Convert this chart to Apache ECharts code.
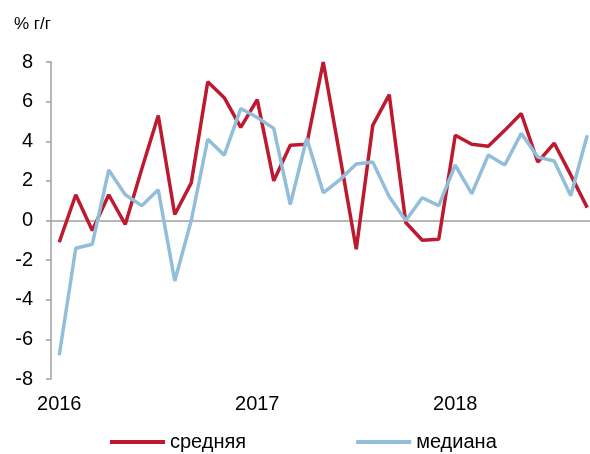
<!DOCTYPE html>
<html>
<head>
<meta charset="utf-8">
<script src="https://cdn.jsdelivr.net/npm/echarts@6/dist/echarts.min.js"></script>
<style>
  html, body { margin: 0; padding: 0; background: #fff; }
  #chart { width: 590px; height: 454px; }
</style>
</head>
<body>
<div id="chart"></div>
<script>
// months Jan 2016 .. Sep 2018
var months = [
  '2016-01', '2016-02', '2016-03', '2016-04', '2016-05', '2016-06',
  '2016-07', '2016-08', '2016-09', '2016-10', '2016-11', '2016-12',
  '2017-01', '2017-02', '2017-03', '2017-04', '2017-05', '2017-06',
  '2017-07', '2017-08', '2017-09', '2017-10', '2017-11', '2017-12',
  '2018-01', '2018-02', '2018-03', '2018-04', '2018-05', '2018-06',
  '2018-07', '2018-08', '2018-09'
];
var meanValues = [
  -1.1, 1.3, -0.5, 1.3, -0.2, 2.6, 5.3, 0.3, 1.9, 7.0, 6.2, 4.7,
  6.1, 2.0, 3.8, 3.85, 8.0, 3.3, -1.45, 4.8, 6.35, -0.1, -1.0, -0.95,
  4.3, 3.85, 3.75, 4.55, 5.4, 2.95, 3.9, 2.3, 0.65
];
var medianValues = [
  -6.8, -1.4, -1.2, 2.55, 1.3, 0.75, 1.55, -3.05, 0.0, 4.1, 3.3, 5.65,
  5.2, 4.65, 0.8, 4.15, 1.4, 2.05, 2.85, 2.95, 1.2, 0.0, 1.15, 0.75,
  2.8, 1.35, 3.3, 2.8, 4.4, 3.2, 3.0, 1.25, 4.3
];
var yTicks = { min: -8, max: 8, step: 2 };

var chart = echarts.init(document.getElementById('chart'));
var font = 'Liberation Sans, Arial, sans-serif';

var option = {
  animation: false,
  textStyle: { fontFamily: font },
  title: {
    text: '% г/г',
    left: 9,
    top: 11,
    textStyle: { fontSize: 17, fontWeight: 'normal', color: '#000', fontFamily: font }
  },
  grid: {
    left: 51,
    top: 62,
    bottom: 75,
    width: 544.5,
    containLabel: false,
    outerBoundsMode: 'none'
  },
  legend: {
    left: 105,
    top: 427,
    itemGap: 110,
    itemWidth: 55,
    itemHeight: 4,
    icon: 'rect',
    textStyle: { fontSize: 20, color: '#000', fontFamily: font },
    data: ['средняя', 'медиана']
  },
  xAxis: [{
    type: 'category',
    data: months,
    boundaryGap: true,
    axisLine: { onZero: true, lineStyle: { color: '#A0A0A0', width: 1.5 } },
    axisTick: {
      length: 6,
      lineStyle: { color: '#A0A0A0', width: 1.5 },
      interval: function (i) { return i % 12 === 0; }
    },
    axisLabel: { show: false }
  }, {
    type: 'category',
    data: months,
    position: 'bottom',
    boundaryGap: true,
    axisLine: { show: false, onZero: false },
    axisTick: { show: false },
    axisLabel: {
      margin: 15,
      fontSize: 20,
      color: '#000',
      fontFamily: font,
      interval: function (i) { return i % 12 === 0; },
      formatter: function (v) { return v.slice(0, 4); }
    }
  }],
  yAxis: {
    type: 'value',
    min: yTicks.min,
    max: yTicks.max,
    interval: yTicks.step,
    axisLine: { show: true, lineStyle: { color: '#A0A0A0', width: 1.5 } },
    axisTick: { show: true, inside: false, length: 5, lineStyle: { color: '#A0A0A0', width: 1.5 } },
    splitLine: { show: false },
    axisLabel: { margin: 18, fontSize: 20, color: '#000', fontFamily: font }
  },
  series: [{
    name: 'средняя',
    type: 'line',
    data: meanValues,
    symbol: 'none',
    color: '#BE1A2F',
    lineStyle: { width: 3.5, color: '#BE1A2F' }
  }, {
    name: 'медиана',
    type: 'line',
    data: medianValues,
    symbol: 'none',
    color: '#93BED9',
    lineStyle: { width: 3.5, color: '#93BED9' }
  }]
};

chart.setOption(option);
</script>
</body>
</html>
